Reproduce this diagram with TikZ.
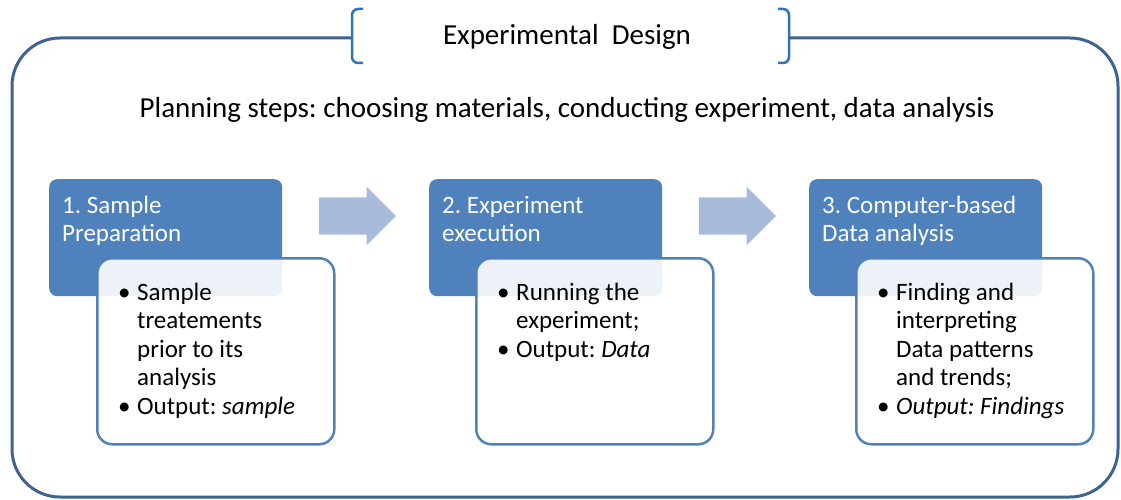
\documentclass[tikz,border=0pt]{standalone}
\usepackage{fontspec}
\setmainfont{Carlito}
\usetikzlibrary{positioning,shapes.arrows}
\frenchspacing

\definecolor{hdrblue}{HTML}{4F81BD}
\definecolor{frameblue}{HTML}{3F6391}
\definecolor{brackblue}{HTML}{2E75B6}
\definecolor{flowblue}{HTML}{A9BBDB}

\tikzset{
	hdr/.style={fill=hdrblue, rounded corners=8pt, minimum width=233pt, minimum height=117pt, anchor=north west, inner sep=0pt},
	card/.style={draw=hdrblue, line width=2.5pt, fill=white, fill opacity=0.9, rounded corners=15pt, minimum width=237pt, minimum height=186pt, anchor=north west, inner sep=0pt},
	hdrtxt/.style={text=white, font=\fontsize{25}{28}\selectfont, anchor=north west, inner sep=0pt},
	cardtxt/.style={font=\fontsize{25}{28.5}\selectfont, anchor=north west, inner sep=0pt},
	flow/.style={single arrow, fill=flowblue, minimum height=77pt, minimum width=58pt, single arrow head extend=10.5pt, inner xsep=0pt, inner ysep=18.5pt},
	brack/.style={brackblue, line width=2.5pt, rounded corners=6pt}
}
\newcommand{\bul}{\makebox[19pt][l]{\textbullet}}

\begin{document}
\begin{tikzpicture}[x=1pt,y=-1pt]
	\useasboundingbox (0,0) rectangle (1121,500);
	\draw [frameblue, line width=3pt, rounded corners=48pt](352,38) -- (12,38) -- (12,497) -- (1118,497) -- (1118,38) -- (789,38);
	\draw [brack](363,9) -- (352,9) -- (352,63) -- (363,63);
	\draw [brack](778,9) -- (789,9) -- (789,63) -- (778,63);
	\node [font=\fontsize{29}{32}\selectfont] (title) at (567,37) {Experimental\ \ Design};
	\node [font=\fontsize{29}{32}\selectfont] (plan) at (567,110) {Planning steps: choosing materials, conducting experiment, data analysis};
	% steps
	\node [hdr] (h1) at (49,179) {};
	\node [hdr] (h2) at (429,179) {};
	\node [hdr] (h3) at (809,179) {};
	\node [flow] (a1) at (348,216) {};
	\node [flow] (a2) at (728,216) {};
	\node [card] (c1) at (96,257) {};
	\node [card] (c2) at (475,257) {};
	\node [card] (c3) at (855,257) {};
	\node [hdrtxt] (t1) at ([xshift=13pt,yshift=-14.5pt]h1.north west) {\begin{tabular}{@{}l@{}}1. Sample\\Preparation\end{tabular}};
	\node [hdrtxt] (t2) at ([xshift=13pt,yshift=-14.5pt]h2.north west) {\begin{tabular}{@{}l@{}}2. Experiment\\execution\end{tabular}};
	\node [hdrtxt] (t3) at ([xshift=13pt,yshift=-14.5pt]h3.north west) {\begin{tabular}{@{}l@{}}3. Computer-based\\Data analysis\end{tabular}};
	\node [cardtxt] (b1) at ([xshift=22pt,yshift=-23pt]c1.north west) {\begin{tabular}{@{}l@{}l@{}}\bul&Sample\\&treatements\\&prior to its\\&analysis\\\bul&Output: \textit{sample}\end{tabular}};
	\node [cardtxt] (b2) at ([xshift=22pt,yshift=-23pt]c2.north west) {\begin{tabular}{@{}l@{}l@{}}\bul&Running the\\&experiment;\\\bul&Output: \textit{Data}\end{tabular}};
	\node [cardtxt] (b3) at ([xshift=22pt,yshift=-23pt]c3.north west) {\begin{tabular}{@{}l@{}l@{}}\bul&Finding and\\&interpreting\\&Data patterns\\&and trends;\\\bul&\textit{Output: Findings}\end{tabular}};
\end{tikzpicture}
\end{document}
